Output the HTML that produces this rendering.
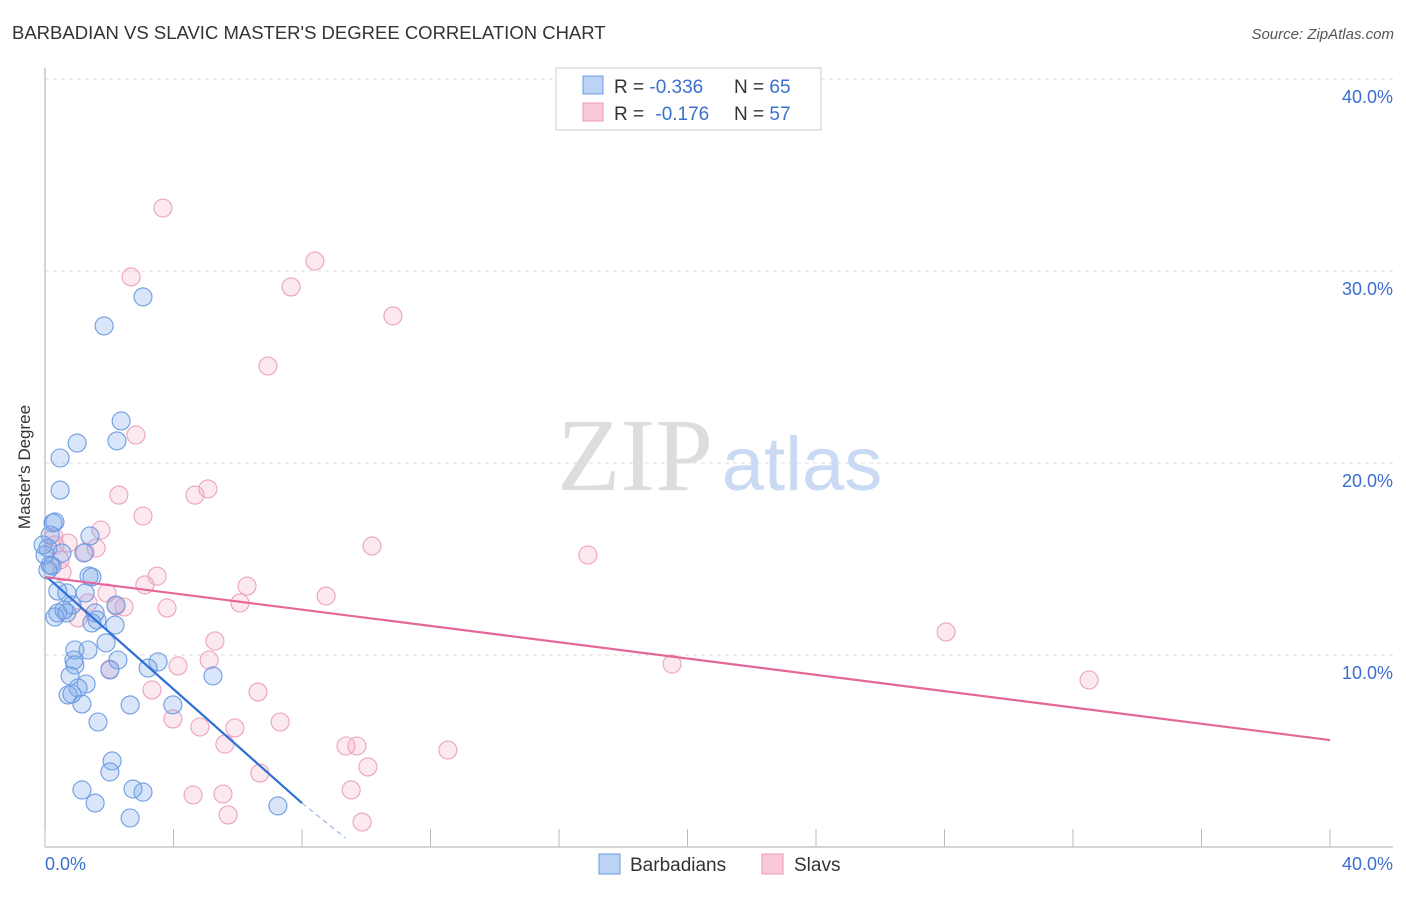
<!DOCTYPE html>
<html><head><meta charset="utf-8"><style>
body{margin:0;background:#fff;font-family:"Liberation Sans",sans-serif;}
</style></head><body>
<svg width="1406" height="892" viewBox="0 0 1406 892" xmlns="http://www.w3.org/2000/svg">
<text x="12" y="39" font-size="18.5" fill="#333">BARBADIAN VS SLAVIC MASTER'S DEGREE CORRELATION CHART</text>
<text x="1394" y="39" font-size="15" fill="#555" font-style="italic" text-anchor="end">Source: ZipAtlas.com</text>
<g id="grid"></g>
<text x="635" y="490" font-size="104" fill="#ddd" font-family="Liberation Serif,serif" text-anchor="middle">ZIP</text>
<text x="802" y="490" font-size="76" fill="#c9daf2" text-anchor="middle">atlas</text>
<line x1="45" y1="68" x2="45" y2="847" stroke="#aaa"/>
<line x1="45" y1="847" x2="1393" y2="847" stroke="#aaa"/>
<g id="xticks"></g>
<g id="pts"></g>
<g id="lines"></g>
<text x="18" y="455" font-size="17" fill="#333" transform="rotate(-90 30 455)" text-anchor="middle">Master's Degree</text>
<text x="45" y="870" font-size="18" fill="#3a6fd0">0.0%</text>
<text x="1393" y="870" font-size="18" fill="#3a6fd0" text-anchor="end">40.0%</text>
<rect x="556" y="68" width="265" height="62" fill="#fff" stroke="#ccc"/>
<rect x="583" y="76" width="20" height="18" fill="#bcd3f5" stroke="#6b9be0"/>
<rect x="583" y="103" width="20" height="18" fill="#f9c9d8" stroke="#e99ab4"/>
<text x="614" y="93" font-size="19" fill="#333">R = <tspan fill="#3a6fd0">-0.336</tspan><tspan x="734">N = </tspan><tspan fill="#3a6fd0">65</tspan></text>
<text x="614" y="120" font-size="19" fill="#333">R = <tspan fill="#3a6fd0" dx="6">-0.176</tspan><tspan x="734">N = </tspan><tspan fill="#3a6fd0">57</tspan></text>
<rect x="599" y="854" width="21" height="20" fill="#bcd3f5" stroke="#6b9be0"/>
<text x="630" y="871" font-size="19" fill="#333">Barbadians</text>
<rect x="762" y="854" width="21" height="20" fill="#f9c9d8" stroke="#e99ab4"/>
<text x="794" y="871" font-size="19" fill="#333">Slavs</text>
</svg>
<script>
const yTicks=[10,20,30,40];
const yTickLabels=["10.0%","20.0%","30.0%","40.0%"];
const xTicks=[0,4,8,12,16,20,24,28,32,36,40];
const bluePx=[[143,297],[104,326],[121,421],[117,441],[77,443],[60,458],[60,490],[55,522],[50,535],[90,536],[48,548],[62,553],[84,553],[52,566],[48,570],[89,576],[92,577],[58,591],[67,593],[85,593],[116,605],[72,605],[64,610],[58,613],[55,617],[67,613],[95,613],[97,620],[92,623],[115,625],[106,643],[75,650],[88,650],[74,660],[118,660],[158,662],[148,668],[110,670],[75,665],[70,676],[86,684],[78,688],[68,695],[72,694],[82,704],[213,676],[173,705],[98,722],[130,705],[112,761],[110,772],[82,790],[95,803],[133,789],[143,792],[130,818],[278,806],[43,545],[50,565],[45,555],[53,523]];
const pinkPx=[[163,208],[315,261],[131,277],[291,287],[393,316],[268,366],[136,435],[119,495],[195,495],[208,489],[143,516],[101,530],[54,537],[68,543],[96,548],[85,552],[372,546],[588,555],[62,572],[157,576],[145,585],[247,586],[107,593],[326,596],[88,603],[124,607],[116,606],[167,608],[240,603],[78,618],[215,641],[946,632],[209,660],[178,666],[110,669],[672,664],[1089,680],[152,690],[258,692],[173,719],[280,722],[200,727],[235,728],[225,744],[346,746],[357,746],[448,750],[368,767],[260,773],[351,790],[193,795],[223,794],[228,815],[362,822],[55,545],[60,560]];
const blueX=bluePx.map(p=>+((p[0]-45)/32.125).toFixed(2));
const blueY=bluePx.map(p=>+((847-p[1])/19.2).toFixed(2));
const pinkX=pinkPx.map(p=>+((p[0]-45)/32.125).toFixed(2));
const pinkY=pinkPx.map(p=>+((847-p[1])/19.2).toFixed(2));
const blueTrend=[[0.06,14.06],[8.0,2.29],[9.35,0.47]];
const pinkTrend=[[0,14.06],[40,5.57]];
const NS="http://www.w3.org/2000/svg";
const sx=v=>45+v*32.125, sy=v=>847-v*19.2;
function mk(t,a,p){const e=document.createElementNS(NS,t);for(const k in a)e.setAttribute(k,a[k]);p.appendChild(e);return e;}
const g=document.getElementById('grid');
yTicks.forEach((t,i)=>{
 const l=mk('line',{x1:45,x2:1393,y1:sy(t),y2:sy(t),stroke:'#ddd','stroke-dasharray':'4,4'},g);
 
 
 const tx=mk('text',{x:1393,y:sy(t)+24,'font-size':18,fill:'#3a6fd0','text-anchor':'end'},g);
 tx.textContent=yTickLabels[i];
 
 
});
const xt=document.getElementById('xticks');
xTicks.forEach(t=>{
 const l=mk('line',{x1:sx(t),x2:sx(t),y1:829,y2:847,stroke:'#bbb'},xt);
 
 
});
const pts=document.getElementById('pts');
function draw(xs,ys,fill,stroke,name){xs.forEach((x,i)=>{
 const c=mk('circle',{cx:sx(x),cy:sy(ys[i]),r:9,fill:fill,stroke:stroke,'stroke-width':1.1},pts);
 
 
});}
draw(pinkX,pinkY,'rgba(244,165,192,0.25)','#eca3bb','slavs-point');
draw(blueX,blueY,'rgba(120,165,235,0.28)','#6e9ce2','barbadians-point');
const ln=document.getElementById('lines');
let a=mk('line',{x1:sx(blueTrend[0][0]),y1:sy(blueTrend[0][1]),x2:sx(blueTrend[1][0]),y2:sy(blueTrend[1][1]),stroke:'#2f6fd6','stroke-width':2.2},ln);


let b=mk('line',{x1:sx(blueTrend[1][0]),y1:sy(blueTrend[1][1]),x2:sx(blueTrend[2][0]),y2:sy(blueTrend[2][1]),stroke:'#9bb8e8','stroke-width':1.2,'stroke-dasharray':'5,4'},ln);


let c=mk('line',{x1:sx(pinkTrend[0][0]),y1:sy(pinkTrend[0][1]),x2:sx(pinkTrend[1][0]),y2:sy(pinkTrend[1][1]),stroke:'#e5679a','stroke-width':2.2},ln);


</script>
</body></html>
